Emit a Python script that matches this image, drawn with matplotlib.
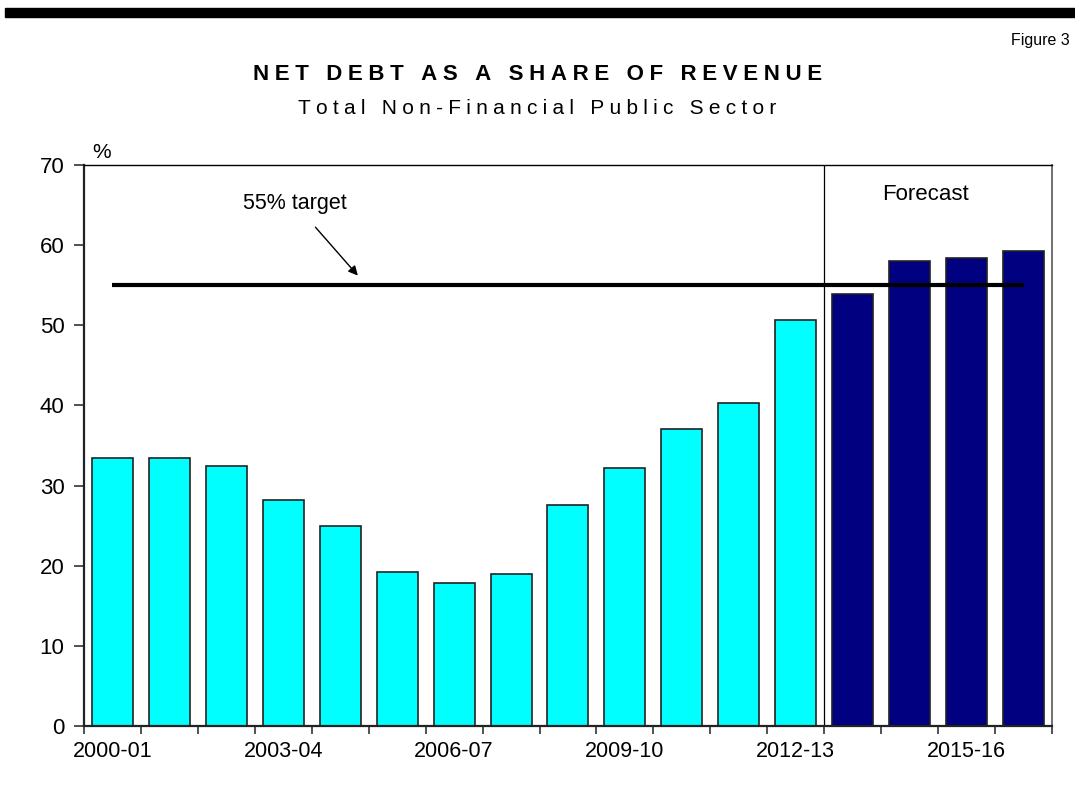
import numpy as np
import matplotlib.pyplot as plt

plt.rcParams['font.family'] = ['Liberation Sans', 'DejaVu Sans']

years = ['2000-01', '2001-02', '2002-03', '2003-04', '2004-05', '2005-06',
         '2006-07', '2007-08', '2008-09', '2009-10', '2010-11', '2011-12',
         '2012-13', '2013-14', '2014-15', '2015-16', '2016-17']
net_debt = [33.4, 33.4, 32.4, 28.2, 25.0, 19.2, 17.9, 19.0, 27.6, 32.2,
            37.0, 40.3, 50.6, 53.9, 58.0, 58.4, 59.3]
n_actual = 13          # first forecast year is 2013-14
target = 55


def spaced(s, gap='\u2005'):
    # letter-spaced heading using a narrow space between characters
    return gap.join(s)


fig = plt.figure(figsize=(10.75, 7.85), dpi=100)
ax = fig.add_axes([0.0781, 0.0752, 0.9005, 0.7146])

x = np.arange(len(years))
colors = ['#00FFFF'] * n_actual + ['#000080'] * (len(years) - n_actual)
ax.bar(x, net_debt, width=0.72, color=colors, edgecolor='#222222', linewidth=1.2, zorder=2)

# target line across all years
ax.plot([x[0], x[-1]], [target, target], color='black', lw=3, solid_capstyle='butt', zorder=3)
ax.annotate('55% target', xy=(4.31, 56.2), xytext=(3.2, 65.2), ha='center', va='center',
            fontsize=15.5, arrowprops=dict(arrowstyle='-|>', color='black', lw=1,
                                           mutation_scale=14, shrinkA=10, shrinkB=0))

# forecast divider
ax.axvline(n_actual - 0.5, color='black', lw=0.9, zorder=1)
ax.text(14.27, 66.3, 'Forecast', ha='center', va='center', fontsize=16)

ax.set_xlim(-0.5, len(years) - 0.5)
ax.set_ylim(0, 70)
ax.set_yticks(range(0, 71, 10))
ax.set_xticks(x[::3])
ax.set_xticklabels(years[::3])
ax.set_xticks(np.arange(-0.5, len(years)), minor=True)
ax.tick_params(axis='x', which='major', length=0, pad=11, labelsize=15.5)
ax.tick_params(axis='x', which='minor', length=6, width=1.2, color='#333333')
ax.tick_params(axis='y', length=7, width=1.2, color='#333333', labelsize=16, pad=7)

for side in ['left', 'bottom']:
    ax.spines[side].set_linewidth(1.6)
    ax.spines[side].set_color('#222222')
ax.spines['top'].set_linewidth(1.0)
ax.spines['right'].set_linewidth(1.3)
ax.spines['right'].set_color('#666666')

ax.text(0.018, 1.006, '%', transform=ax.transAxes, fontsize=15, ha='center', va='bottom')

# header band and titles
fig.patches.append(plt.Rectangle((5 / 1075, 1 - 16.7 / 785), 1, 8.7 / 785,
                                 transform=fig.transFigure, color='black'))
fig.text(0.995, 1 - 40 / 785, 'Figure 3', ha='right', va='center', fontsize=11.5)
fig.text(0.5, 1 - 75 / 785, spaced('NET DEBT AS A SHARE OF REVENUE'),
         ha='center', va='center', fontsize=16, fontweight='bold')
fig.text(0.5, 1 - 108 / 785, spaced('Total Non-Financial Public Sector'),
         ha='center', va='center', fontsize=15)

fig.savefig('out.png', dpi=100)
